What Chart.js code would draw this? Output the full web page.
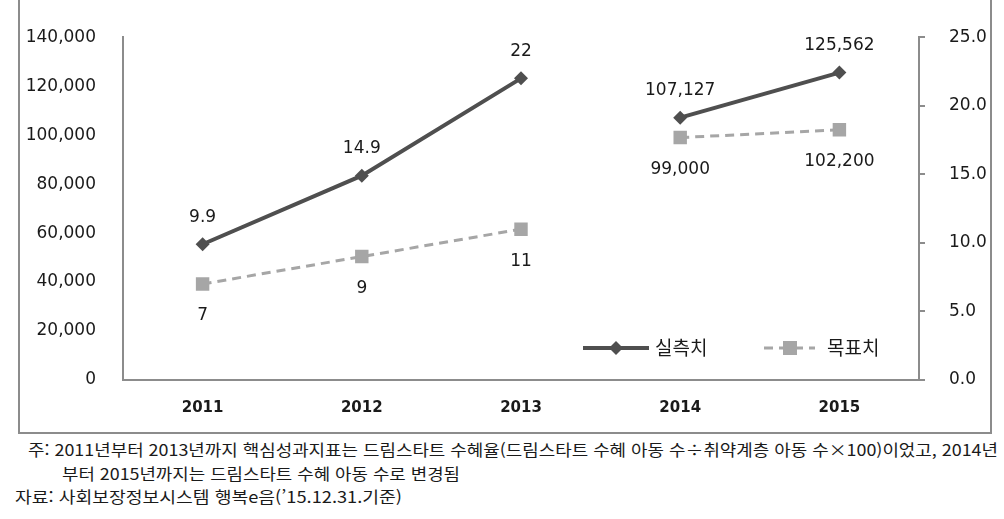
<!DOCTYPE html>
<html lang="ko">
<head>
<meta charset="UTF-8">
<title>드림스타트 핵심성과지표</title>
<script src="https://cdn.jsdelivr.net/npm/chart.js"></script>
<style>
  html, body { margin: 0; padding: 0; background: #fff; }
  #wrap { position: relative; width: 1004px; height: 519px; overflow: hidden; }
  #box { position: absolute; left: 18px; top: -4px; width: 970px; height: 434px;
         border: 2px solid #8c8c8c; }
  #chartBox { position: absolute; left: 0; top: 0; width: 1004px; height: 432px; }
  .note { position: absolute; font-family: "Noto Sans CJK KR", sans-serif; font-size: 16px;
          color: #1a1a1a; white-space: nowrap; transform-origin: 0 50%; line-height: 20px; }
</style>
</head>
<body>
<div id="wrap">
  <div id="box"></div>
  <div id="chartBox"><canvas id="kpiChart" width="1004" height="432"></canvas></div>
  <div class="note" data-w="970" style="left:28px;top:439px">주: 2011년부터 2013년까지 핵심성과지표는 드림스타트 수혜율(드림스타트 수혜 아동 수÷취약계층 아동 수×100)이었고, 2014년</div>
  <div class="note" data-w="398" style="left:62px;top:463px">부터 2015년까지는 드림스타트 수혜 아동 수로 변경됨</div>
  <div class="note" data-w="387" style="left:15px;top:486px">자료: 사회보장정보시스템 행복e음(’15.12.31.기준)</div>
</div>

<script>
    // 데이터
    const years = ['2011', '2012', '2013', '2014', '2015'];
    // 2011~2013: 수혜율(오른쪽 축), 2014~2015: 수혜 아동 수(왼쪽 축)
    const actualRate = [9.9, 14.9, 22, null, null];
    const targetRate = [7, 9, 11, null, null];
    const actualCount = [null, null, null, 107127, 125562];
    const targetCount = [null, null, null, 99000, 102200];
    const leftTicks = [0, 140000, 20000];   // min, max, step
    const rightTicks = [0, 25, 5];

    const darkGray = '#4f4f4f';
    const lightGray = '#a6a6a6';
    const tickFont = { family: 'DejaVu Sans', size: 17 };

    function actualSet(data, axis) {
        return {
            label: '실측치', data: data, yAxisID: axis, kind: 'actual',
            borderColor: darkGray, backgroundColor: darkGray, borderWidth: 4,
            pointStyle: 'rectRot', pointRadius: 7, pointBackgroundColor: darkGray,
            pointBorderWidth: 0, spanGaps: false
        };
    }
    function targetSet(data, axis) {
        return {
            label: '목표치', data: data, yAxisID: axis, kind: 'target',
            borderColor: lightGray, backgroundColor: lightGray, borderWidth: 3,
            borderDash: [9, 6], pointStyle: 'rect', pointRadius: 9.5,
            pointBackgroundColor: lightGray, pointBorderWidth: 0, spanGaps: false
        };
    }

    // 값 라벨과 범례 그리기
    const labelPlugin = {
        id: 'labelPlugin',
        afterDatasetsDraw(chart) {
            const ctx = chart.ctx;
            ctx.save();
            ctx.font = '17px "DejaVu Sans"';
            ctx.fillStyle = '#1a1a1a';
            ctx.textAlign = 'center';
            ctx.textBaseline = 'middle';
            chart.data.datasets.forEach((ds, i) => {
                const meta = chart.getDatasetMeta(i);
                meta.data.forEach((pt, j) => {
                    const v = ds.data[j];
                    if (v === null) return;
                    const txt = ds.yAxisID === 'y' ? v.toLocaleString('en-US') : String(v);
                    const dy = ds.kind === 'actual' ? -27 : 32;
                    ctx.fillText(txt, pt.x, pt.y + dy);
                });
            });

            // 범례
            const area = chart.chartArea;
            const ly = area.bottom - 32;
            ctx.lineCap = 'butt';
            ctx.strokeStyle = darkGray; ctx.lineWidth = 4; ctx.setLineDash([]);
            ctx.beginPath(); ctx.moveTo(583, ly); ctx.lineTo(649, ly); ctx.stroke();
            ctx.fillStyle = darkGray;
            ctx.beginPath();
            ctx.moveTo(616, ly - 7); ctx.lineTo(623, ly); ctx.lineTo(616, ly + 7); ctx.lineTo(609, ly);
            ctx.closePath(); ctx.fill();

            ctx.strokeStyle = lightGray; ctx.lineWidth = 3; ctx.setLineDash([9, 6]);
            ctx.beginPath(); ctx.moveTo(764, ly); ctx.lineTo(815, ly); ctx.stroke();
            ctx.setLineDash([]);
            ctx.fillStyle = lightGray;
            ctx.fillRect(783, ly - 7, 14, 14);

            ctx.font = '19px "Noto Sans CJK KR"';
            ctx.fillStyle = '#1a1a1a';
            ctx.textAlign = 'left';
            ctx.fillText('실측치', 655, ly);
            ctx.fillText('목표치', 827, ly);
            ctx.restore();
        }
    };

    const ctx = document.getElementById('kpiChart').getContext('2d');
    new Chart(ctx, {
        type: 'line',
        data: {
            labels: years,
            datasets: [
                actualSet(actualRate, 'yR'),
                targetSet(targetRate, 'yR'),
                actualSet(actualCount, 'y'),
                targetSet(targetCount, 'y')
            ]
        },
        options: {
            responsive: false,
            animation: false,
            layout: { padding: { top: 34, left: 0, right: 0, bottom: 0 } },
            plugins: { legend: { display: false }, tooltip: { enabled: false } },
            scales: {
                x: {
                    offset: true,
                    grid: { display: false, drawTicks: false },
                    border: { color: '#8c8c8c', width: 2 },
                    ticks: { color: '#1a1a1a', padding: 19, font: { family: 'DejaVu Sans', size: 15, weight: 'bold' } },
                    afterFit(scale) { scale.height = 52; }
                },
                y: {
                    position: 'left',
                    min: leftTicks[0], max: leftTicks[1],
                    grid: { display: false, drawTicks: false },
                    border: { color: '#8c8c8c', width: 2 },
                    ticks: {
                        stepSize: leftTicks[2], color: '#1a1a1a', padding: 27, font: tickFont,
                        callback: v => v.toLocaleString('en-US')
                    },
                    afterFit(scale) { scale.width = 123; }
                },
                yR: {
                    position: 'right',
                    min: rightTicks[0], max: rightTicks[1],
                    grid: { drawOnChartArea: false, drawTicks: true, tickLength: 6, color: '#8c8c8c', lineWidth: 2 },
                    border: { color: '#8c8c8c', width: 2 },
                    ticks: {
                        stepSize: rightTicks[2], color: '#1a1a1a', padding: 24, font: tickFont,
                        callback: v => v.toFixed(1)
                    },
                    afterFit(scale) { scale.width = 85; }
                }
            }
        },
        plugins: [labelPlugin]
    });

    // 주석 글자 폭 맞추기
    document.querySelectorAll('.note').forEach(el => {
        const w = el.getBoundingClientRect().width;
        el.style.transform = 'scaleX(' + (Number(el.dataset.w) / w) + ')';
    });
</script>
</body>
</html>
